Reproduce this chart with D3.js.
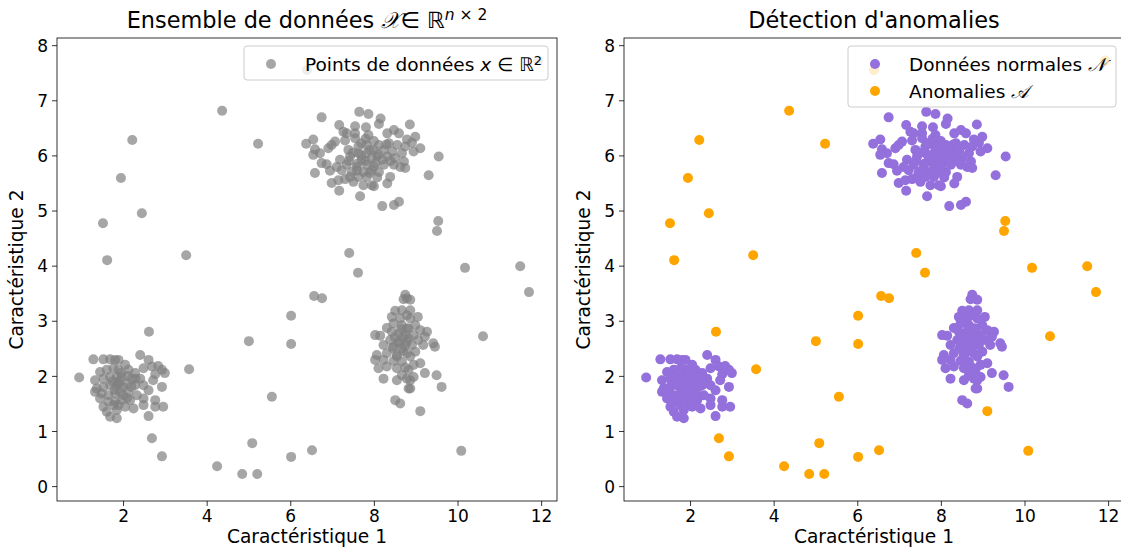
<!DOCTYPE html>
<html>
<head>
<meta charset="utf-8">
<script src="https://cdn.jsdelivr.net/npm/d3@7"></script>
<style>
  body { margin: 0; background: #fff; }
  svg { display: block; }
  text { font-family: "DejaVu Sans", sans-serif; fill: #000; }
</style>
</head>
<body>
<svg id="fig" width="1121" height="550"></svg>
<script>
// Upper cluster (around 7.9, 6.0)
const normalTop = [
  [6.75,6.69],[7.65,6.79],[7.87,6.75],[7.17,6.55],[7.55,6.53],[7.81,6.51],[7.27,6.43],[7.35,6.40],
  [7.55,6.40],[7.87,6.37],[6.55,6.29],[6.38,6.21],[7.07,6.25],[7.31,6.27],[7.55,6.31],[6.59,6.11],
  [6.71,6.04],[6.91,6.13],[6.99,6.19],[6.55,6.01],[7.39,6.10],[7.63,6.16],[7.83,6.19],[7.63,6.04],
  [7.83,6.04],[7.43,5.98],[7.19,5.92],[7.71,5.92],[7.95,5.95],[6.75,5.86],[6.87,5.84],[7.11,5.79],
  [7.35,5.83],[7.59,5.79],[7.83,5.83],[6.59,5.68],[6.95,5.72],[7.23,5.73],[7.47,5.70],[7.75,5.70],
  [7.95,5.73],[6.99,5.50],[7.15,5.55],[7.31,5.57],[7.51,5.52],[7.75,5.46],[7.95,5.46],[7.17,5.36],
  [7.67,5.26],[7.43,5.61],[7.83,5.61],[7.63,5.61],
  [8.16,6.67],[8.12,6.57],[8.86,6.56],[8.48,6.46],[8.32,6.40],[8.60,6.40],[8.99,6.34],[8.79,6.29],
  [8.91,6.23],[9.11,6.13],[8.12,6.19],[8.36,6.22],[8.56,6.19],[8.75,6.16],[8.95,6.07],[8.00,6.10],
  [8.24,6.10],[8.44,6.07],[8.67,6.04],[9.55,5.98],[8.08,5.98],[8.32,5.98],[8.51,5.95],[8.72,5.89],
  [8.04,5.86],[8.24,5.83],[8.48,5.83],[8.75,5.77],[8.63,5.79],[8.12,5.70],[8.39,5.61],[8.08,5.60],
  [9.31,5.64],[8.32,5.49],[8.00,5.44],[8.60,5.16],[8.48,5.10],[8.20,5.08],
  [7.70,6.00],[7.80,5.90],[7.90,6.10],[8.00,5.80],[7.60,5.85],[7.50,6.05],[7.70,6.22],[8.10,6.02],
  [7.90,5.68],[8.20,5.92],[7.40,5.90],[7.80,6.30],[8.00,6.26],[7.60,5.72],[8.30,6.20],[8.40,5.90]
];

// Lower-left cluster (around 2.0, 1.8)
const normalLowLeft = [
  [1.29,2.30],[1.53,2.30],[1.69,2.30],[1.81,2.29],[0.95,1.97],[1.33,1.92],[1.45,2.07],[1.61,2.11],
  [1.77,2.14],[1.53,1.95],[1.69,1.98],[1.85,1.98],[1.37,1.77],[1.53,1.80],[1.69,1.83],[1.85,1.83],
  [1.33,1.71],[1.49,1.68],[1.65,1.65],[1.81,1.68],[1.45,1.59],[1.65,1.53],[1.81,1.53],[1.53,1.44],
  [1.61,1.35],[1.69,1.26],[1.77,1.47],[1.85,1.38],
  [2.41,2.38],[2.61,2.29],[1.89,2.29],[2.05,2.20],[2.49,2.14],[2.69,2.17],[2.84,2.18],[2.93,2.11],
  [3.00,2.05],[2.77,2.03],[1.89,2.11],[2.13,2.11],[2.29,2.05],[1.97,1.98],[2.21,1.95],[2.41,1.95],
  [2.72,1.92],[1.89,1.86],[2.09,1.86],[2.29,1.83],[2.49,1.83],[2.93,1.80],[2.61,1.74],[1.93,1.71],
  [2.13,1.71],[2.33,1.65],[2.49,1.59],[1.97,1.56],[2.17,1.56],[2.77,1.56],[1.89,1.47],[2.05,1.44],
  [2.25,1.41],[2.49,1.47],[2.77,1.44],[2.96,1.44],[2.61,1.27],[1.85,1.23],
  [1.90,1.90],[2.00,1.80],[2.10,2.00],[1.80,1.75],[2.20,1.80],[2.00,1.65],[1.75,1.90],[2.30,1.95],
  [2.10,1.60],[1.95,2.05]
];

// Lower-right cluster (around 8.7, 2.5)
const normalLowRight = [
  [8.75,3.47],[8.71,3.39],[8.51,3.18],[8.67,3.19],[8.43,3.07],[8.63,3.04],[8.79,3.10],[8.47,2.95],
  [8.67,2.92],[8.31,2.87],[8.79,2.86],[8.03,2.74],[8.15,2.73],[8.43,2.80],[8.59,2.77],[8.75,2.74],
  [8.39,2.65],[8.59,2.62],[8.79,2.62],[8.23,2.56],[8.47,2.53],[8.67,2.50],[8.07,2.38],[8.31,2.41],
  [8.55,2.38],[8.79,2.41],[8.03,2.29],[8.23,2.29],[8.47,2.27],[8.67,2.26],[8.11,2.14],[8.31,2.17],
  [8.55,2.14],[8.75,2.15],[8.23,1.95],[8.55,1.92],[8.67,2.01],[8.79,1.95],[8.83,1.77],[8.51,1.56],
  [8.63,1.50],
  [8.79,3.41],[8.87,3.38],[8.87,3.19],[9.05,3.07],[8.87,3.04],[8.99,2.92],[8.83,2.86],[9.27,2.80],
  [9.11,2.83],[9.22,2.71],[8.95,2.74],[8.83,2.68],[9.06,2.65],[9.42,2.59],[9.46,2.53],[9.18,2.56],
  [8.91,2.56],[8.99,2.44],[8.87,2.35],[9.11,2.23],[8.95,2.20],[8.83,2.11],[9.22,2.05],[9.50,2.01],
  [8.95,1.98],[8.87,1.92],[9.62,1.80],[8.87,1.77],
  [8.60,2.60],[8.70,2.45],[8.50,2.70],[8.65,2.85],[8.55,2.35],[8.75,2.55],[8.45,2.50],[8.70,2.70]
];

// Scattered outliers
const anomalies = [
  [4.37,6.81],[2.22,6.28],[1.95,5.59],[2.45,4.95],[1.52,4.77],[1.62,4.10],[5.23,6.21],[3.51,4.19],
  [7.41,4.23],[7.62,3.87],[9.51,4.63],[9.54,4.81],[10.18,3.96],[11.50,3.99],[11.71,3.52],[10.61,2.72],
  [6.57,3.45],[6.76,3.41],[6.02,3.09],[6.02,2.58],[5.01,2.63],[3.58,2.12],[2.62,2.80],[5.56,1.62],
  [2.69,0.87],[2.93,0.54],[4.25,0.36],[4.85,0.22],[5.21,0.22],[5.09,0.78],[6.02,0.53],[6.52,0.65],
  [10.09,0.64],[9.11,1.36],[6.40,7.55],[11.93,7.72]
];

const xTicks = [2, 4, 6, 8, 10, 12];
const yTicks = [0, 1, 2, 3, 4, 5, 6, 7, 8];
const xLabel = "Caractéristique 1";
const yLabel = "Caractéristique 2";

const normalAll = normalTop.concat(normalLowLeft, normalLowRight);
// The full data set, in drawing order
const allPoints = normalLowLeft.concat(normalTop, normalLowRight, anomalies);

const svg = d3.select("#fig");
const xDomain = [0.42, 12.38];
const yDomain = [-0.27, 8.13];
const axTop = 38, axBottom = 501, axW = 500;
const R = 5;
const legendFont = "18.5px";

function makeAxes(x0) {
  const g = svg.append("g");
  const x = d3.scaleLinear().domain(xDomain).range([x0, x0 + axW]);
  const y = d3.scaleLinear().domain(yDomain).range([axBottom, axTop]);
  const clipId = "clip" + x0;
  svg.append("clipPath").attr("id", clipId)
    .append("rect").attr("x", x0).attr("y", axTop).attr("width", axW).attr("height", axBottom - axTop);
  const plot = g.append("g").attr("clip-path", `url(#${clipId})`);

  const xa = g.append("g").attr("transform", `translate(0,${axBottom})`)
    .call(d3.axisBottom(x).tickValues(xTicks).tickFormat(d3.format("d")).tickSizeInner(5).tickSizeOuter(0).tickPadding(4));
  const ya = g.append("g").attr("transform", `translate(${x0},0)`)
    .call(d3.axisLeft(y).tickValues(yTicks).tickFormat(d3.format("d")).tickSizeInner(5).tickSizeOuter(0).tickPadding(4));
  [xa, ya].forEach(a => {
    a.select(".domain").remove();
    a.selectAll(".tick line").attr("stroke", "#000").attr("stroke-width", 0.8);
    a.selectAll(".tick text").style("font-size", "17px").attr("fill", "#000")
      .style("font-family", '"DejaVu Sans", sans-serif');
  });
  ya.selectAll(".tick text").attr("dy", "0.36em");

  g.append("text").attr("x", x0 + axW / 2).attr("y", 543).attr("text-anchor", "middle")
    .style("font-size", "18.6px").text(xLabel);
  g.append("text").attr("transform", `translate(${x0 - 34},${(axTop + axBottom) / 2}) rotate(-90)`)
    .attr("text-anchor", "middle").style("font-size", "18.6px").text(yLabel);

  return { g, plot, x, y, x0 };
}

function frame(ax) {
  ax.g.append("rect").attr("x", ax.x0).attr("y", axTop).attr("width", axW).attr("height", axBottom - axTop)
    .attr("fill", "none").attr("stroke", "#000").attr("stroke-width", 0.8);
}

function dots(ax, data, color, alpha) {
  ax.plot.append("g").selectAll("circle").data(data).join("circle")
    .attr("cx", d => ax.x(d[0])).attr("cy", d => ax.y(d[1])).attr("r", R)
    .attr("fill", color).attr("fill-opacity", alpha);
}

function legend(ax, items, right, width) {
  const lx = right - width, ly = 46, rowH = 27, h = 7 + rowH * items.length;
  const lg = ax.g.append("g");
  lg.append("rect").attr("x", lx).attr("y", ly).attr("width", width).attr("height", h)
    .attr("rx", 3).attr("fill", "#fff").attr("fill-opacity", 0.8).attr("stroke", "#cccccc").attr("stroke-width", 1);
  items.forEach((it, i) => {
    const cy = ly + 18 + i * rowH;
    lg.append("circle").attr("cx", lx + 27).attr("cy", cy).attr("r", R)
      .attr("fill", it.color).attr("fill-opacity", it.alpha);
    const t = lg.append("text").attr("x", lx + 61).attr("y", cy).attr("dy", "0.36em")
      .style("font-size", legendFont);
    it.parts(t);
  });
}

// Left panel: raw data set
const A = makeAxes(57);
dots(A, allPoints, "#808080", 0.7);
frame(A);
legend(A, [{
  color: "#808080", alpha: 0.7,
  parts: t => {
    t.append("tspan").text("Points de données ");
    t.append("tspan").style("font-style", "italic").text("x");
    t.append("tspan").text(" ∈ ℝ");
    t.append("tspan").attr("dy", "-0.45em").style("font-size", "13px").text("2");
  }
}], 548, 304);

const titleA = A.g.append("text").attr("x", 57 + axW / 2).attr("y", 28).attr("text-anchor", "middle")
  .style("font-size", "22.4px");
titleA.append("tspan").text("Ensemble de données ");
titleA.append("tspan").style("font-family", '"DejaVu Serif", serif').style("font-style", "italic").text("𝒳");
titleA.append("tspan").text("∈ ℝ");
titleA.append("tspan").attr("dy", "-0.5em").style("font-size", "15.5px").style("font-style", "italic").text("n");
titleA.append("tspan").style("font-size", "15.5px").text(" × 2");

// Right panel: normal points versus anomalies
const B = makeAxes(624);
dots(B, normalAll, "#9370DB", 1);
dots(B, anomalies, "#FFA500", 1);
frame(B);
legend(B, [
  { color: "#9370DB", alpha: 1, parts: t => {
      t.append("tspan").text("Données normales ");
      t.append("tspan").style("font-style", "italic").text("𝒩");
  } },
  { color: "#FFA500", alpha: 1, parts: t => {
      t.append("tspan").text("Anomalies ");
      t.append("tspan").style("font-style", "italic").text("𝒜");
  } }
], 1116, 268);

B.g.append("text").attr("x", 624 + axW / 2).attr("y", 28).attr("text-anchor", "middle")
  .style("font-size", "22.4px").text("Détection d'anomalies");
</script>
</body>
</html>
